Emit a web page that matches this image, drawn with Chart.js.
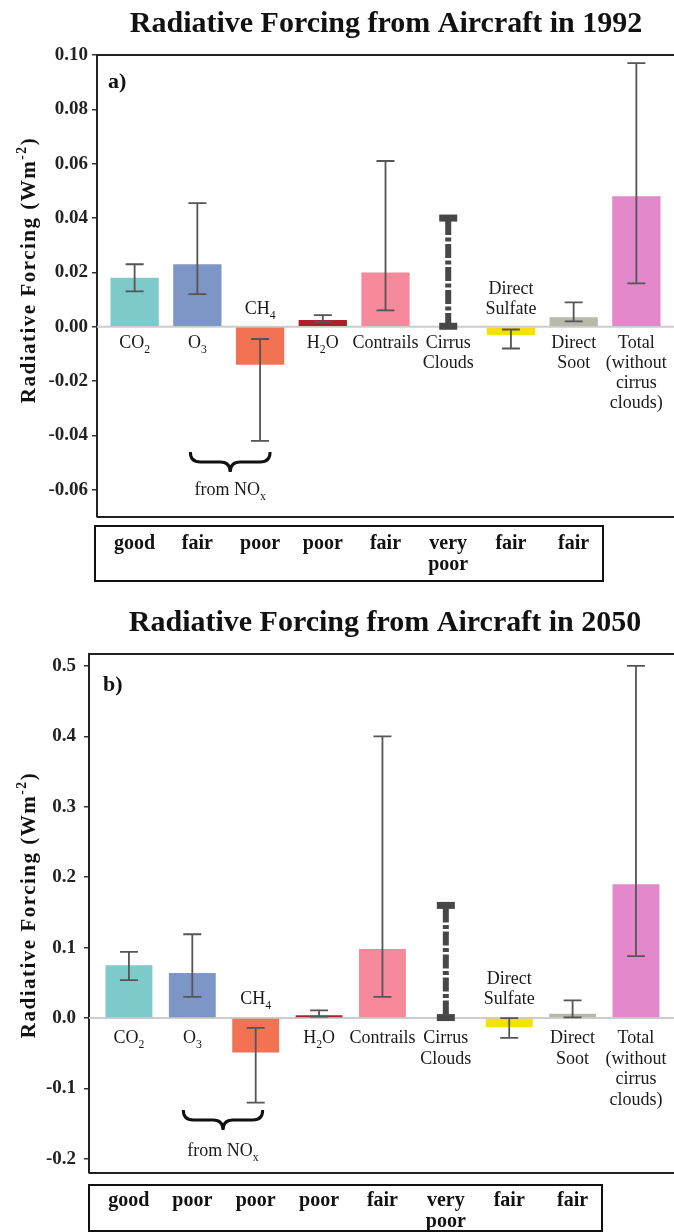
<!DOCTYPE html>
<html><head><meta charset="utf-8">
<script src="https://cdn.jsdelivr.net/npm/chart.js@4.4.1/dist/chart.umd.min.js"></script>
<style>
html,body{margin:0;padding:0;background:#fff;width:674px;height:1232px;overflow:hidden}
canvas{display:block}
</style></head><body>
<canvas id="ca" width="674" height="600"></canvas>
<canvas id="cb" width="674" height="632"></canvas>
<script>
// ---------- data ----------
const categories = ['CO_{2}','O_{3}','CH_{4}','H_{2}O','Contrails','Cirrus\nClouds','Direct\nSulfate','Direct\nSoot','Total\n(without\ncirrus\nclouds)'];
const barColors = ['#7dcaca','#7e96c6','#f47254','#b01e2d','#f6899c',null,'#f4e300','#b9b9aa','#e287c9'];
const cirrusIndex = 5;

const values1992  = [0.018, 0.023, -0.014, 0.0025, 0.020, null, -0.003, 0.0035, 0.048];
const errLow1992  = [0.013, 0.012, -0.042, 0.0018, 0.006, 0.000, -0.008, 0.002, 0.016];
const errHigh1992 = [0.023, 0.0455, -0.0045, 0.0043, 0.061, 0.040, -0.001, 0.009, 0.097];
const ticks1992   = [0.10, 0.08, 0.06, 0.04, 0.02, 0.00, -0.02, -0.04, -0.06];
const ratings1992 = ['good','fair','poor','poor','fair','very\npoor','fair','fair'];

const values2050  = [0.075, 0.064, -0.049, 0.004, 0.098, null, -0.013, 0.006, 0.19];
const errLow2050  = [0.054, 0.030, -0.120, 0.002, 0.030, 0.000, -0.028, 0.001, 0.088];
const errHigh2050 = [0.094, 0.119, -0.014, 0.011, 0.400, 0.160, 0.000, 0.025, 0.500];
const ticks2050   = [0.5, 0.4, 0.3, 0.2, 0.1, 0.0, -0.1, -0.2];
const ratings2050 = ['good','poor','poor','poor','fair','very\npoor','fair','fair'];

const FONT = '"Liberation Serif", "Times New Roman", Times, serif';

// ---------- helpers ----------
function parseRich(str){
  const out=[]; const re=/([_^])\{([^}]*)\}/g; let last=0, m;
  while((m=re.exec(str))){
    if(m.index>last) out.push({t:str.slice(last,m.index),mode:0});
    out.push({t:m[2],mode:m[1]==='_'?1:2}); last=re.lastIndex;
  }
  if(last<str.length) out.push({t:str.slice(last),mode:0});
  return out;
}
function drawRich(ctx, str, cx, by, size, weight, color){
  const segs=parseRich(str);
  const fs = s=> weight+' '+s+'px '+FONT;
  let w=0;
  segs.forEach(s=>{ctx.font=fs(s.mode?size*0.65:size); s.w=ctx.measureText(s.t).width; w+=s.w;});
  let x = cx - w/2;
  ctx.fillStyle=color; ctx.textAlign='left'; ctx.textBaseline='alphabetic';
  segs.forEach(s=>{
    ctx.font=fs(s.mode?size*0.65:size);
    const dy = s.mode===1? size*0.3 : s.mode===2? -size*0.42 : 0;
    ctx.fillText(s.t, x, by+dy); x+=s.w;
  });
}
function drawBrace(ctx, x1, x2, yT, h){
  const xm=(x1+x2)/2, r=10, ym=yT+h/2;
  ctx.beginPath();
  ctx.moveTo(x1, yT);
  ctx.quadraticCurveTo(x1, ym, x1+r, ym);
  ctx.lineTo(xm-r, ym);
  ctx.quadraticCurveTo(xm, ym, xm, yT+h);
  ctx.quadraticCurveTo(xm, ym, xm+r, ym);
  ctx.lineTo(x2-r, ym);
  ctx.quadraticCurveTo(x2, ym, x2, yT);
  ctx.stroke();
}

function panelPlugin(p){
  return {
    id:'panel'+p.key,
    beforeDatasetsDraw(chart){
      const {ctx, chartArea:a, scales:{y}} = chart;
      const y0=y.getPixelForValue(0);
      ctx.save(); ctx.strokeStyle='#cccccc'; ctx.lineWidth=2;
      ctx.beginPath(); ctx.moveTo(a.left,y0); ctx.lineTo(a.right,y0); ctx.stroke(); ctx.restore();
    },
    afterDatasetsDraw(chart){
      const {ctx, chartArea:a, scales:{x,y}} = chart;
      const y0=y.getPixelForValue(0);
      ctx.save();
      // frame
      ctx.strokeStyle='#222'; ctx.lineWidth=2;
      ctx.beginPath();
      ctx.moveTo(a.left, a.top); ctx.lineTo(a.right, a.top);
      ctx.moveTo(a.left, a.bottom); ctx.lineTo(a.right, a.bottom);
      ctx.stroke();
      // error bars
      p.lo.forEach((lo,i)=>{
        const hi=p.hi[i]; const cx=x.getPixelForValue(i);
        const yl=y.getPixelForValue(lo), yh=y.getPixelForValue(hi);
        if(i===cirrusIndex){
          ctx.strokeStyle='#474747'; ctx.fillStyle='#474747'; ctx.lineWidth=6;
          ctx.setLineDash([14,2.5,4,2.5]);
          ctx.beginPath(); ctx.moveTo(cx, yh+3); ctx.lineTo(cx, yl-3); ctx.stroke();
          ctx.setLineDash([]);
          ctx.fillRect(cx-9, yh-3.5, 18, 7); ctx.fillRect(cx-9, yl-4, 18, 7);
        } else {
          ctx.strokeStyle='#555'; ctx.lineWidth=1.8;
          ctx.beginPath();
          ctx.moveTo(cx,yl); ctx.lineTo(cx,yh);
          ctx.moveTo(cx-9,yl); ctx.lineTo(cx+9,yl);
          ctx.moveTo(cx-9,yh); ctx.lineTo(cx+9,yh);
          ctx.stroke();
        }
      });
      // category labels
      categories.forEach((lab,i)=>{
        const lines=lab.split('\n'); const cx=x.getPixelForValue(i);
        const v=p.values[i];
        if(v!==null && v<0){
          lines.forEach((ln,k)=>drawRich(ctx, ln, cx, y0 - p.aboveOff - (lines.length-1-k)*p.lineH, 18,'normal','#1a1a1a'));
        } else {
          lines.forEach((ln,k)=>drawRich(ctx, ln, cx, y0 + p.belowOff + k*p.lineH, 18,'normal','#1a1a1a'));
        }
      });
      // brace "from NOx"
      ctx.strokeStyle='#111'; ctx.lineWidth=3;
      const bx1=x.getPixelForValue(1)+p.braceL, bx2=x.getPixelForValue(2)+p.braceR;
      drawBrace(ctx, bx1, bx2, p.braceY, 20);
      drawRich(ctx, 'from NO_{x}', (bx1+bx2)/2, p.noxY, 18, 'normal', '#1a1a1a');
      // quality table
      ctx.strokeStyle='#111'; ctx.lineWidth=2;
      ctx.strokeRect(p.tbl.left, p.tbl.top, p.tbl.right-p.tbl.left, p.tbl.bottom-p.tbl.top);
      p.ratings.forEach((r,i)=>{
        const cx=x.getPixelForValue(i);
        r.split('\n').forEach((ln,k)=>drawRich(ctx, ln, cx, p.tbl.b1 + k*(p.tbl.b2-p.tbl.b1), 20, 'bold', '#111'));
      });
      // title
      drawRich(ctx, p.title, p.titleX, p.titleY, 30, 'bold', '#111');
      // panel letter
      ctx.font='bold 22px '+FONT; ctx.fillStyle='#111'; ctx.textAlign='left';
      ctx.fillText(p.letter, p.letterX, p.letterY);
      // y axis title
      ctx.translate(p.yTitleX, p.yTitleY); ctx.rotate(-Math.PI/2);
      try{ ctx.letterSpacing='1.5px'; }catch(e){}
      drawRich(ctx, 'Radiative Forcing (Wm^{-2})', 0, 7, 21, 'bold', '#111');
      try{ ctx.letterSpacing='0px'; }catch(e){}
      ctx.restore();
    }
  };
}

function makePanel(p){
  new Chart(document.getElementById(p.canvas), {
    type:'bar',
    data:{datasets:[{
      data:p.values.map((v,i)=>({x:i,y:v})),
      backgroundColor:barColors.map(c=>c||'rgba(0,0,0,0)'),
      borderWidth:0, barPercentage:p.barPct, categoryPercentage:1
    }]},
    options:{
      responsive:false, animation:false, devicePixelRatio:1,
      layout:{padding:{top:p.padTop,bottom:p.padBottom,left:0,right:0}},
      plugins:{legend:{display:false}, tooltip:{enabled:false}, title:{display:false}},
      scales:{
        x:{type:'linear', min:p.xMin, max:p.xMax, offset:false, display:false,
           afterBuildTicks:s=>{s.ticks=categories.map((c,i)=>({value:i}));}},
        y:{min:p.yMin, max:p.yMax,
           afterBuildTicks:s=>{s.ticks=p.ticks.map(v=>({value:v}));},
           afterFit:s=>{s.width=p.axisWidth;},
           ticks:{callback:v=>Number(v).toFixed(p.decimals), font:{family:FONT,size:19,weight:'bold'}, color:'#222', padding:p.tickPad},
           grid:{drawOnChartArea:false, drawTicks:true, tickLength:5, color:'#333', lineWidth:1.5},
           border:{display:true, color:'#222', width:2}}
      }
    },
    plugins:[panelPlugin(p)]
  });
}

makePanel({
  key:'a', canvas:'ca', values:values1992, lo:errLow1992, hi:errHigh1992, ticks:ticks1992, ratings:ratings1992,
  decimals:2, yMin:-0.07, yMax:0.10, xMin:-0.6, xMax:8.6, axisWidth:97, padTop:55, padBottom:83, barPct:0.77, tickPad:4,
  belowOff:21, aboveOff:13, lineH:20, braceL:-7, braceR:10, braceY:452, noxY:495,
  tbl:{left:95,right:603,top:526,bottom:581,b1:549,b2:570},
  title:'Radiative Forcing from Aircraft in 1992', titleX:386, titleY:32,
  letter:'a)', letterX:108, letterY:88, yTitleX:28, yTitleY:270
});
makePanel({
  key:'b', canvas:'cb', values:values2050, lo:errLow2050, hi:errHigh2050, ticks:ticks2050, ratings:ratings2050,
  decimals:1, yMin:-0.22, yMax:0.517, xMin:-0.63, xMax:8.6, axisWidth:89, padTop:54, padBottom:59, barPct:0.74, tickPad:8,
  belowOff:25, aboveOff:14, lineH:20.5, braceL:-9, braceR:7, braceY:510, noxY:556,
  tbl:{left:89,right:602,top:585,bottom:631,b1:606,b2:627},
  title:'Radiative Forcing from Aircraft in 2050', titleX:385, titleY:31,
  letter:'b)', letterX:103, letterY:91, yTitleX:28, yTitleY:305
});
</script>
</body></html>
